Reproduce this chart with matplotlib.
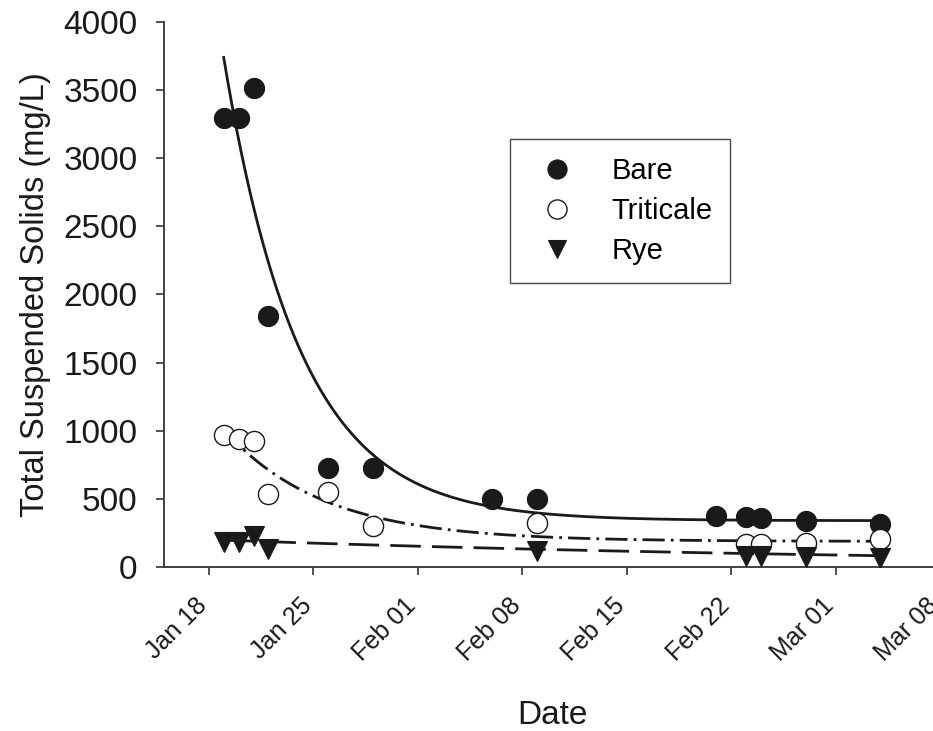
import datetime as dt
import numpy as np
import matplotlib
matplotlib.use("Agg")
import matplotlib.pyplot as plt
import matplotlib.dates as mdates
import matplotlib.transforms as mtransforms

plt.rcParams['font.family'] = ['Liberation Sans', 'DejaVu Sans']

# ---------- data ----------
YEAR = 2011
START = dt.datetime(YEAR, 1, 18)

bare_days = [1, 2, 3, 4, 8, 11, 19, 22, 34, 36, 37, 40, 45]
bare_tss = [3295, 3295, 3515, 1845, 730, 730, 500, 500, 376, 367, 360, 340, 316]

trit_days = [1, 2, 3, 4, 8, 11, 22, 36, 37, 40, 45]
trit_tss = [969, 940, 927, 534, 548, 301, 321, 167, 169, 174, 205]

rye_days = [1, 2, 3, 4, 22, 36, 37, 40, 45]
rye_tss = [180, 180, 227, 135, 115, 84, 84, 76, 66]

# exponential decay fits  y = c + a*exp(-b*(t - 1))
bare_fit = (340, 3400, 0.195)
trit_fit = (188, 822, 0.150)
rye_fit = (0, 197, 0.0197)
fit_range = (1, 45)


def to_dates(days):
    return [START + dt.timedelta(days=d) for d in days]


def fit_curve(p):
    c, a, b = p
    t = np.linspace(fit_range[0], fit_range[1], 300)
    return to_dates(t), c + a * np.exp(-b * (t - 1))


# ---------- plot ----------
fig = plt.figure(figsize=(9.33, 7.31), dpi=100)
ax = fig.add_axes([164/933, 1-567/731, (940-164)/933, (567-22)/731])

ink = '#1a1a1a'

x, y = fit_curve(bare_fit)
ax.plot(x, y, color=ink, lw=2.0, ls='-', zorder=2)
x, y = fit_curve(trit_fit)
ax.plot(x, y, color=ink, lw=2.0, ls=(0, (8, 2.2, 1, 2.2)), zorder=2)
x, y = fit_curve(rye_fit)
ax.plot(x, y, color=ink, lw=2.0, ls=(0, (11, 4)), zorder=2)

ax.plot(to_dates(bare_days), bare_tss, 'o', ms=14.5, mfc=ink, mec=ink,
        mew=0.8, ls='none', label='Bare', zorder=3)
ax.plot(to_dates(trit_days), trit_tss, 'o', ms=14.5, mfc='white', mec=ink,
        mew=1.0, ls='none', label='Triticale', zorder=3)
ax.plot(to_dates(rye_days), rye_tss, 'v', ms=14, mfc=ink, mec=ink,
        mew=0.8, ls='none', label='Rye', zorder=3)

ax.set_xlim(dt.datetime(YEAR, 1, 15), dt.datetime(YEAR, 3, 8))
ax.set_ylim(0, 4000)
ax.set_yticks(np.arange(0, 4001, 500))
ticks = [dt.datetime(YEAR, 1, 18) + dt.timedelta(days=7*i) for i in range(8)]
ax.set_xticks(ticks)
ax.xaxis.set_major_formatter(mdates.DateFormatter('%b %d'))

for s in ['top', 'right']:
    ax.spines[s].set_visible(False)
for s in ['left', 'bottom']:
    ax.spines[s].set_color('#333333')
    ax.spines[s].set_linewidth(1.3)

ax.tick_params(direction='out', length=6, width=1.2, color='#333333',
               labelcolor=ink)
ax.tick_params(axis='y', labelsize=24, pad=13)
ax.tick_params(axis='x', labelsize=18, pad=13)
shift = mtransforms.ScaledTranslation(-10/72, 0, fig.dpi_scale_trans)
for lab in ax.get_xticklabels():
    lab.set_rotation(45)
    lab.set_ha('right')
    lab.set_rotation_mode('anchor')
    lab.set_transform(lab.get_transform() + shift)

ax.set_ylabel('Total Suspended Solids (mg/L)', fontsize=23.5, color=ink, labelpad=9)
ax.set_xlabel('Date', fontsize=24, color=ink, labelpad=25)

leg = ax.legend(loc='upper left', bbox_to_anchor=(0.4459, 0.7853), fontsize=21,
                frameon=True, fancybox=False, numpoints=1, handletextpad=0.85,
                borderpad=0.62, labelspacing=0.41, borderaxespad=0,
                markerscale=0.95)
leg.get_frame().set_edgecolor(ink)
leg.get_frame().set_linewidth(1.0)

fig.savefig('out.png', dpi=100)
